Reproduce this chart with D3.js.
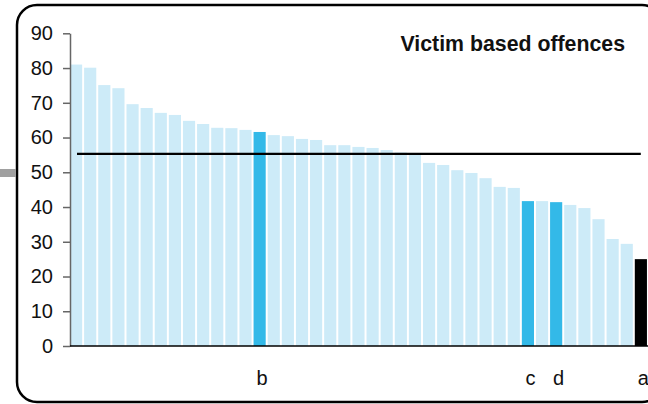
<!DOCTYPE html>
<html>
<head>
<meta charset="utf-8">
<script src="https://cdn.jsdelivr.net/npm/d3@7"></script>
<style>
  html, body { margin: 0; padding: 0; background: #fff; }
  svg { display: block; font-family: "Liberation Sans", Arial, sans-serif; }
</style>
</head>
<body>
<svg id="chart" width="648" height="404"></svg>
<script>
// ---- data ----
const values = [81.0, 80.1, 75.1, 74.2, 69.6, 68.5, 67.1, 66.5, 64.8, 63.9,
                62.8, 62.7, 62.2, 61.6, 60.7, 60.4, 59.6, 59.3, 57.8, 57.8,
                57.3, 57.0, 56.4, 55.7, 55.2, 52.7, 52.1, 50.6, 49.8, 48.3,
                45.8, 45.5, 41.7, 41.7, 41.4, 40.6, 39.7, 36.5, 30.8, 29.4, 25.0];
const labels = ["", "", "", "", "", "", "", "", "", "",
                "", "", "", "b", "", "", "", "", "", "",
                "", "", "", "", "", "", "", "", "", "",
                "", "", "c", "", "d", "", "", "", "", "", "a"];
const highlighted = ["b", "c", "d"];
const focus = ["a"];
const average = 55.3;
const yTicks = [0, 10, 20, 30, 40, 50, 60, 70, 80, 90];
const title = "Victim based offences";

// ---- layout ----
const svg = d3.select("#chart");
const mLeft = 70, mTop = 33.3, mBottom = 346;
const step = 14.12, pad = 0.14;
const mRight = mLeft + (values.length - pad) * step;

const x = d3.scaleBand()
  .domain(d3.range(values.length))
  .range([mLeft, mRight])
  .paddingInner(pad)
  .paddingOuter(0)
  .align(0);
const y = d3.scaleLinear().domain([0, 90]).range([mBottom, mTop]);

// decorative frame
svg.append("rect")
  .attr("x", 17).attr("y", 5).attr("width", 645).attr("height", 397)
  .attr("rx", 20).attr("ry", 20)
  .attr("fill", "none").attr("stroke", "#000").attr("stroke-width", 2.5);
svg.append("rect")
  .attr("x", 0).attr("y", 169).attr("width", 16).attr("height", 8)
  .attr("fill", "#a0a0a0");

// bars
svg.append("g").selectAll("rect")
  .data(values)
  .join("rect")
  .attr("x", (d, i) => x(i))
  .attr("y", d => y(d))
  .attr("width", x.bandwidth())
  .attr("height", d => y(0) - y(d))
  .attr("fill", (d, i) => focus.includes(labels[i]) ? "#000000"
        : highlighted.includes(labels[i]) ? "#33b9e8" : "#cdebf8");

// y axis
const yAxis = svg.append("g")
  .attr("transform", `translate(${mLeft},0)`)
  .call(d3.axisLeft(y).tickValues(yTicks).tickSize(7).tickPadding(10).tickSizeOuter(0));
yAxis.select(".domain").attr("stroke", "#666").attr("stroke-width", 1.5);
yAxis.selectAll(".tick line").attr("stroke", "#666").attr("stroke-width", 1.5);
yAxis.selectAll(".tick text")
  .attr("font-size", 20).attr("fill", "#111")
  .attr("font-family", "Liberation Sans, Arial, sans-serif");

// x baseline
svg.append("line")
  .attr("x1", mLeft).attr("x2", 648)
  .attr("y1", y(0)).attr("y2", y(0))
  .attr("stroke", "#000").attr("stroke-width", 1.5);

// average line
svg.append("line")
  .attr("x1", x(0) + 7).attr("x2", x(values.length - 1) + 6)
  .attr("y1", y(average)).attr("y2", y(average))
  .attr("stroke", "#000").attr("stroke-width", 2.2);

// category labels
svg.append("g").selectAll("text")
  .data(labels.map((l, i) => ({l, i})).filter(d => d.l))
  .join("text")
  .attr("x", d => x(d.i) + x.bandwidth() / 2 + 2.5)
  .attr("y", 385)
  .attr("text-anchor", "middle")
  .attr("font-size", 20)
  .attr("fill", "#111")
  .text(d => d.l);

// title
svg.append("text")
  .attr("x", 625).attr("y", 51)
  .attr("text-anchor", "end")
  .attr("font-size", 21.3)
  .attr("font-weight", "bold")
  .attr("fill", "#111")
  .text(title);
</script>
</body>
</html>
